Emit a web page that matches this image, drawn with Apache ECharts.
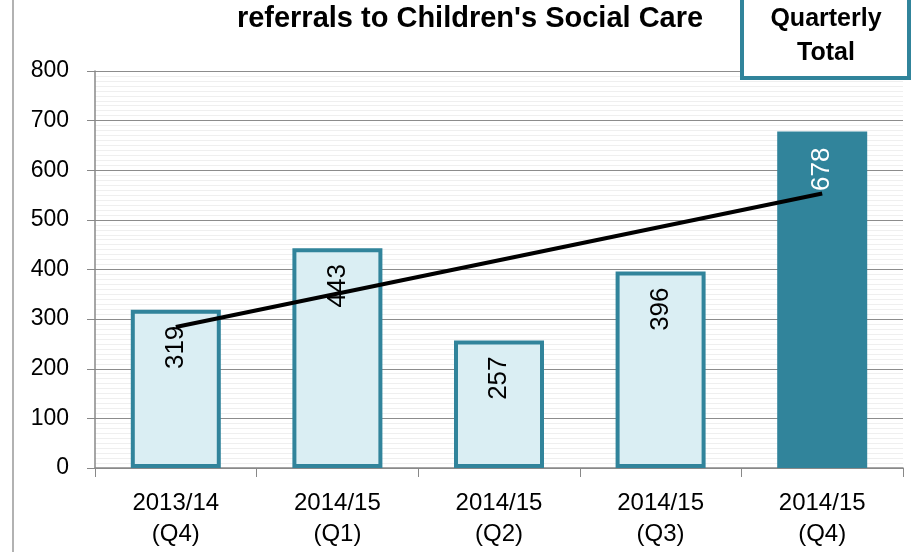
<!DOCTYPE html>
<html>
<head>
<meta charset="utf-8">
<script src="https://cdn.jsdelivr.net/npm/echarts@6/dist/echarts.min.js"></script>
<style>
  html, body { margin: 0; padding: 0; background: #fff; }
  #chart { width: 918px; height: 552px; }
</style>
</head>
<body>
<div id="chart"></div>
<script>
// data
const categories = ['2013/14\n(Q4)', '2014/15\n(Q1)', '2014/15\n(Q2)', '2014/15\n(Q3)', '2014/15\n(Q4)']
const referrals = [319, 443, 257, 396, 678]
const trendEnds = [284, null, null, null, 553]

const teal = '#31849B'
const lightFill = '#DAEEF3'
const font = '"Liberation Sans", Arial, sans-serif'

const chart = echarts.init(document.getElementById('chart'))

const barData = referrals.map((v, i) => {
  const last = i === referrals.length - 1
  return {
    value: v,
    itemStyle: {
      color: last ? teal : lightFill,
      borderColor: teal,
      borderWidth: last ? 0 : 4
    },
    label: { color: last ? '#fff' : '#000' }
  }
})

chart.setOption({
  animation: false,
  grid: { left: 95, right: 15, top: 71, bottom: 84 },
  graphic: [
    {
      type: 'line',
      shape: { x1: 13, y1: 0, x2: 13, y2: 552 },
      style: { stroke: '#999', lineWidth: 1.5 }
    },
    {
      type: 'text',
      x: 470,
      y: 19,
      style: {
        text: "referrals to Children's Social Care",
        font: 'bold 29px ' + font,
        fill: '#000',
        align: 'center',
        verticalAlign: 'middle'
      }
    },
    {
      type: 'rect',
      z: 100,
      shape: { x: 742, y: -6, width: 167, height: 84 },
      style: { fill: '#fff', stroke: teal, lineWidth: 4 }
    },
    {
      type: 'text',
      z: 101,
      x: 826,
      y: 36,
      style: {
        text: 'Quarterly\nTotal',
        font: 'bold 25px ' + font,
        lineHeight: 34,
        align: 'center',
        verticalAlign: 'middle',
        fill: '#000'
      }
    }
  ],
  xAxis: {
    type: 'category',
    data: categories,
    axisLine: { lineStyle: { color: '#888', width: 1.5 } },
    axisTick: { show: true, length: 9, lineStyle: { color: '#888' } },
    axisLabel: {
      color: '#000',
      fontFamily: font,
      fontSize: 24,
      lineHeight: 31,
      margin: 20
    }
  },
  yAxis: {
    type: 'value',
    min: 0,
    max: 800,
    interval: 100,
    axisLine: { show: true, lineStyle: { color: '#888', width: 1.5 } },
    axisTick: { show: true, length: 8, lineStyle: { color: '#888' } },
    axisLabel: { color: '#000', fontFamily: font, fontSize: 23, margin: 26 },
    splitLine: { lineStyle: { color: '#8c8c8c', width: 1.2 } },
    minorTick: { show: false, splitNumber: 10 },
    minorSplitLine: { show: true, lineStyle: { color: '#efefef', width: 1 } }
  },
  series: [
    {
      type: 'bar',
      data: barData,
      barWidth: 90,
      label: {
        show: true,
        position: 'insideTop',
        rotate: 90,
        align: 'right',
        verticalAlign: 'middle',
        distance: 16,
        fontFamily: font,
        fontSize: 26
      }
    },
    {
      type: 'line',
      data: trendEnds,
      connectNulls: true,
      symbol: 'none',
      lineStyle: { color: '#000', width: 4 },
      z: 5
    }
  ]
})
</script>
</body>
</html>
